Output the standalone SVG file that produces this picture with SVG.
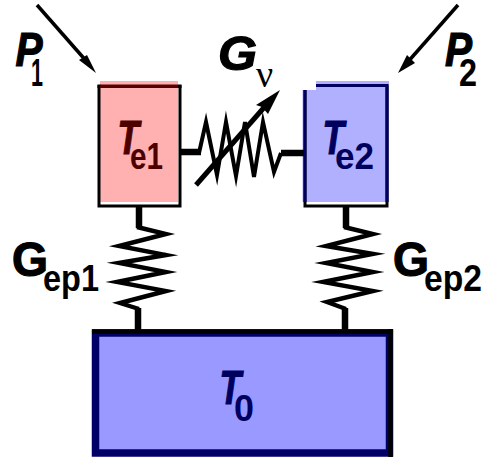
<svg xmlns="http://www.w3.org/2000/svg" width="487" height="459" viewBox="0 0 487 459">
<style>
text{font-family:"Liberation Sans",Arial,sans-serif}
.m{font-weight:bold;font-style:italic;font-size:48px;stroke-width:1.2;stroke:currentColor}
.s{font-size:36px;font-weight:bold}
.up{font-weight:bold;font-style:normal}
.zig{fill:none;stroke:#000;stroke-width:4.4;stroke-linejoin:miter;stroke-miterlimit:6}
.lead{fill:none;stroke:#000;stroke-width:6.5}
.ah{fill:#000}
.red{fill:#4d0000;color:#4d0000}
.navy{fill:#00005f;color:#00005f}
</style>
<rect width="487" height="459" fill="#fff"/>
<g id="node-te1">
<rect x="100" y="81" width="78" height="121" fill="#ffb0b0"/>
<path d="M99 85V206H180V85" fill="none" stroke="#000" stroke-width="3"/>
<rect x="97.500" y="84.500" width="3" height="3.500" fill="#000"/>
<rect x="100" y="84.500" width="78" height="3.500" fill="#570000"/>
<rect x="178" y="84.500" width="3.500" height="3.500" fill="#000"/>
<text class="m red" x="117.500" y="154" textLength="21.500" lengthAdjust="spacingAndGlyphs">T</text>
<text class="s red" x="130" y="169" textLength="33" lengthAdjust="spacingAndGlyphs">e1</text>
</g>
<g id="node-te2">
<path d="M316 81H389V202H302.500V90H316Z" fill="#b0b0ff"/>
<path d="M305 90V206H387V85.500H316" fill="none" stroke="#000" stroke-width="3"/>
<path d="M305 90V202M387 85.500V202M316 85.500H387" fill="none" stroke="#00005f" stroke-width="3"/>
<text class="m navy" x="322.500" y="154" textLength="21.500" lengthAdjust="spacingAndGlyphs">T</text>
<text class="s navy" x="335" y="169" textLength="39" lengthAdjust="spacingAndGlyphs">e2</text>
</g>
<g id="node-t0">
<rect x="95.500" y="333" width="294" height="120" fill="#9999ff" stroke="#000066" stroke-width="7.500"/>
<path d="M92 331.500H393M390.500 329V457" fill="none" stroke="#000" stroke-width="4.500"/>
<text class="m navy" x="219.500" y="404" textLength="21.500" lengthAdjust="spacingAndGlyphs">T</text>
<text class="s navy" x="234" y="421" textLength="20" lengthAdjust="spacingAndGlyphs">0</text>
</g>
<g id="connectors">
<path class="lead" d="M139 207V228"/>
<path class="zig" d="M137 227L166 234L119 246L166 255L119 263L166 272L117 282L166 291L120 303L139 309"/>
<path class="lead" d="M138 308V330"/>
<path class="lead" d="M346 207V228"/>
<path class="zig" d="M344 227L373 234L326 246L373 254L326 263L373 272L323 282L373 291L327 302L346 309"/>
<path class="lead" d="M345 308V330"/>
<path class="lead" d="M181 152H201M281 153H304"/>
<path class="zig" style="stroke-width:4" d="M199 153L206 122L217 175L226 122L236 176L245 122L254 177L263 122L274 172L281 153"/>
<path d="M196 185L268 103" fill="none" stroke="#000" stroke-width="5"/>
<path class="ah" d="M280 90L268 114L262 107L256 105Z"/>
<path d="M37 5L88 63" fill="none" stroke="#000" stroke-width="3.500"/>
<path class="ah" d="M96 73L79 60L87 55Z"/>
<path d="M458 5L406 64" fill="none" stroke="#000" stroke-width="3.500"/>
<path class="ah" d="M398 73L407 55L415 63Z"/>
</g>
<g id="labels">
<text class="m" x="15.500" y="66" textLength="27" lengthAdjust="spacingAndGlyphs">P</text>
<text class="s" style="font-size:38px" x="31" y="85.500" textLength="12" lengthAdjust="spacingAndGlyphs">1</text>
<text class="m" x="445" y="66" textLength="27" lengthAdjust="spacingAndGlyphs">P</text>
<text class="s" style="font-size:38px" x="459" y="85.500" textLength="18" lengthAdjust="spacingAndGlyphs">2</text>
<text class="m" x="218" y="70" textLength="39" lengthAdjust="spacingAndGlyphs">G</text>
<text x="256" y="87" font-size="38" style="font-family:'Liberation Serif',serif">ν</text>
<text class="m up" x="12" y="276" textLength="36" lengthAdjust="spacingAndGlyphs">G</text>
<text class="s" x="43" y="291" textLength="56" lengthAdjust="spacingAndGlyphs">ep1</text>
<text class="m up" x="393" y="276" textLength="36" lengthAdjust="spacingAndGlyphs">G</text>
<text class="s" x="424" y="291" textLength="58" lengthAdjust="spacingAndGlyphs">ep2</text>
</g>
</svg>
